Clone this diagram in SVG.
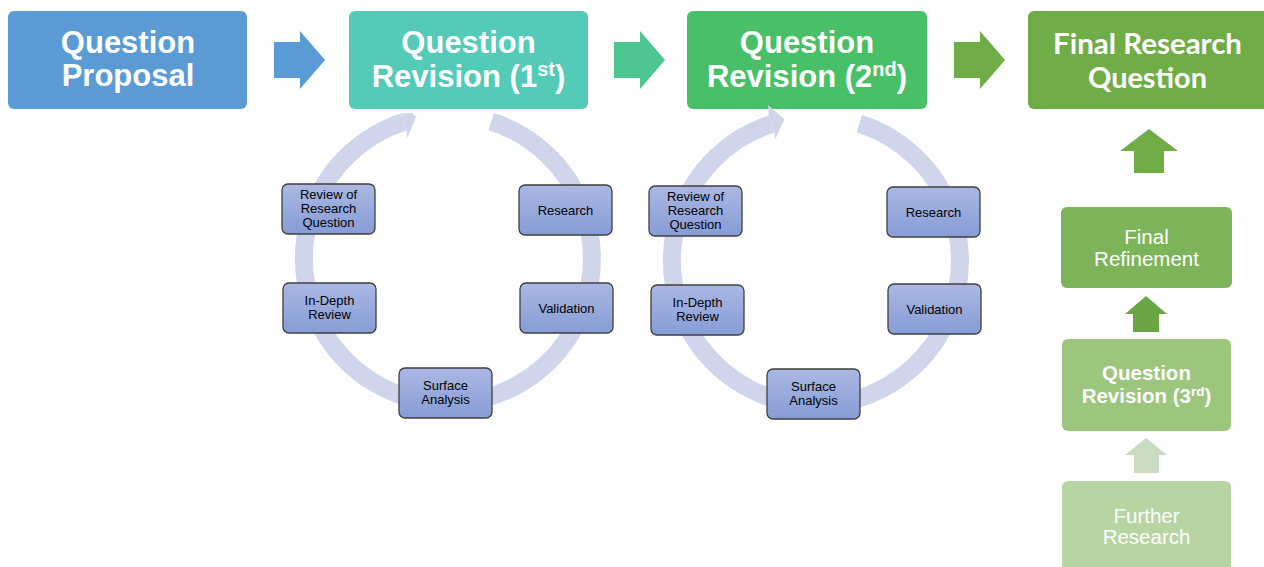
<svg xmlns="http://www.w3.org/2000/svg" width="1264" height="567" viewBox="0 0 1264 567">
  <defs>
    <linearGradient id="stepFill" x1="0" y1="0" x2="0" y2="1">
      <stop offset="0" stop-color="#AAB8E2"/>
      <stop offset="1" stop-color="#879CD6"/>
    </linearGradient>
    <!-- right-pointing block arrow, 51 x 58 -->
    <path id="blockRight" d="M0,11 H26 V0 L51,29 L26,58 V47 H0 Z"/>
    <style>
      .head { font-family: "Liberation Sans", Arial, sans-serif; font-weight: bold; font-size: 31px; fill: #FFFFFF; text-anchor: middle; }
      .headC { font-family: Lato, "Open Sans", sans-serif; font-weight: bold; font-size: 29px; fill: #FFFFFF; text-anchor: middle; }
      .side { font-family: "Liberation Sans", Arial, sans-serif; font-size: 20.5px; fill: #FFFFFF; text-anchor: middle; }
      .sideB { font-family: "Liberation Sans", Arial, sans-serif; font-weight: bold; font-size: 20.5px; fill: #FFFFFF; text-anchor: middle; }
      .step rect { fill: url(#stepFill); stroke: #3F3F3F; stroke-width: 1.3; }
      .step text { font-family: "Liberation Sans", Arial, sans-serif; font-size: 13px; fill: #000000; text-anchor: middle; }
      .ring { fill: none; stroke: #CFD5EA; stroke-width: 18; }
      .ringHead { fill: #CFD5EA; }
    </style>
  </defs>

  <!-- main stages -->
  <g id="question-proposal">
    <rect x="8" y="11" width="239" height="98" rx="6" fill="#5B9BD5"/>
    <text class="head" x="128" y="53">Question</text>
    <text class="head" x="128" y="86">Proposal</text>
  </g>
  <g id="question-revision-1">
    <rect x="349" y="11" width="239" height="98" rx="6" fill="#53CBB7"/>
    <text class="head" x="468.5" y="53">Question</text>
    <text class="head" x="468.5" y="87">Revision (1<tspan font-size="20" dy="-11">st</tspan><tspan dy="11">)</tspan></text>
  </g>
  <g id="question-revision-2">
    <rect x="687" y="11" width="240" height="98" rx="6" fill="#48C067"/>
    <text class="head" x="807" y="53">Question</text>
    <text class="head" x="807" y="87">Revision (2<tspan font-size="20" dy="-11">nd</tspan><tspan dy="11">)</tspan></text>
  </g>
  <g id="final-research-question">
    <rect x="1028" y="11" width="242" height="98" rx="6" fill="#70AD47"/>
    <text class="headC" x="1147.5" y="54" textLength="189" lengthAdjust="spacingAndGlyphs">Final Research</text>
    <text class="headC" x="1147.5" y="88" textLength="119" lengthAdjust="spacingAndGlyphs">Question</text>
  </g>

  <!-- connectors: block arrows and cycle rings -->
  <g id="connectors">
    <use href="#blockRight" x="274" y="31" fill="#5B9BD5"/>
    <use href="#blockRight" x="614" y="31" fill="#4DC690"/>
    <use href="#blockRight" x="954" y="31" fill="#70AD47"/>

    <path d="M1149,129 L1178,151 H1164 V173 H1134 V151 H1120 Z" fill="#70AD47"/>
    <path d="M1146,296 L1167,314 H1159 V332 H1133 V314 H1125 Z" fill="#6AA543"/>
    <path d="M1146,438 L1167,455 H1159 V473 H1134 V455 H1125 Z" fill="#C9DBC1"/>

    <!-- ring around (448,259), r 144 -->
    <g id="cycle1">
      <path class="ring" d="M491.3,121.7 A144,144 0 1 1 403.5,122"/>
      <path class="ringHead" d="M400.7,113.5 L411.7,112.7 L416,116.7 L407.3,138.3 L406.3,130.6 Z"/>
    </g>
    <!-- ring around (816,261), r 144 -->
    <g id="cycle2">
      <path class="ring" d="M859.3,123.7 A144,144 0 1 1 771.5,124"/>
      <path class="ringHead" d="M768.7,115.5 L768,105 L784.3,119.3 L775,140 L774.3,132.6 Z"/>
    </g>
  </g>

  <!-- first revision cycle -->
  <g id="c1-review" class="step">
    <rect x="282" y="184" width="93" height="50" rx="6"/>
    <text x="328.5" y="199">Review of</text>
    <text x="328.5" y="213">Research</text>
    <text x="328.5" y="227">Question</text>
  </g>
  <g id="c1-research" class="step">
    <rect x="519" y="185" width="93" height="50" rx="6"/>
    <text x="565.5" y="214.5">Research</text>
  </g>
  <g id="c1-indepth" class="step">
    <rect x="283" y="283" width="93" height="50" rx="6"/>
    <text x="329.5" y="305">In-Depth</text>
    <text x="329.5" y="319">Review</text>
  </g>
  <g id="c1-validation" class="step">
    <rect x="520" y="283" width="93" height="50" rx="6"/>
    <text x="566.5" y="312.5">Validation</text>
  </g>
  <g id="c1-surface" class="step">
    <rect x="399" y="368" width="93" height="50" rx="6"/>
    <text x="445.5" y="390">Surface</text>
    <text x="445.5" y="404">Analysis</text>
  </g>

  <!-- second revision cycle -->
  <g id="c2-review" class="step">
    <rect x="649" y="186" width="93" height="50" rx="6"/>
    <text x="695.5" y="201">Review of</text>
    <text x="695.5" y="215">Research</text>
    <text x="695.5" y="229">Question</text>
  </g>
  <g id="c2-research" class="step">
    <rect x="887" y="187" width="93" height="50" rx="6"/>
    <text x="933.5" y="216.5">Research</text>
  </g>
  <g id="c2-indepth" class="step">
    <rect x="651" y="285" width="93" height="50" rx="6"/>
    <text x="697.5" y="307">In-Depth</text>
    <text x="697.5" y="321">Review</text>
  </g>
  <g id="c2-validation" class="step">
    <rect x="888" y="284" width="93" height="50" rx="6"/>
    <text x="934.5" y="313.5">Validation</text>
  </g>
  <g id="c2-surface" class="step">
    <rect x="767" y="369" width="93" height="50" rx="6"/>
    <text x="813.5" y="391">Surface</text>
    <text x="813.5" y="405">Analysis</text>
  </g>

  <!-- final column -->
  <g id="final-refinement">
    <rect x="1061" y="207" width="171" height="81" rx="6" fill="#7EB459"/>
    <text class="side" x="1146.5" y="243.5">Final</text>
    <text class="side" x="1146.5" y="265.5">Refinement</text>
  </g>
  <g id="question-revision-3">
    <rect x="1062" y="339" width="169" height="92" rx="6" fill="#9CC67D"/>
    <text class="sideB" x="1146.5" y="380">Question</text>
    <text class="sideB" x="1146.5" y="403">Revision (3<tspan font-size="13.5" dy="-7.5">rd</tspan><tspan dy="7.5">)</tspan></text>
  </g>
  <g id="further-research">
    <rect x="1062" y="481" width="169" height="100" rx="6" fill="#B7D5A2"/>
    <text class="side" x="1146.5" y="523">Further</text>
    <text class="side" x="1146.5" y="544">Research</text>
  </g>
</svg>
